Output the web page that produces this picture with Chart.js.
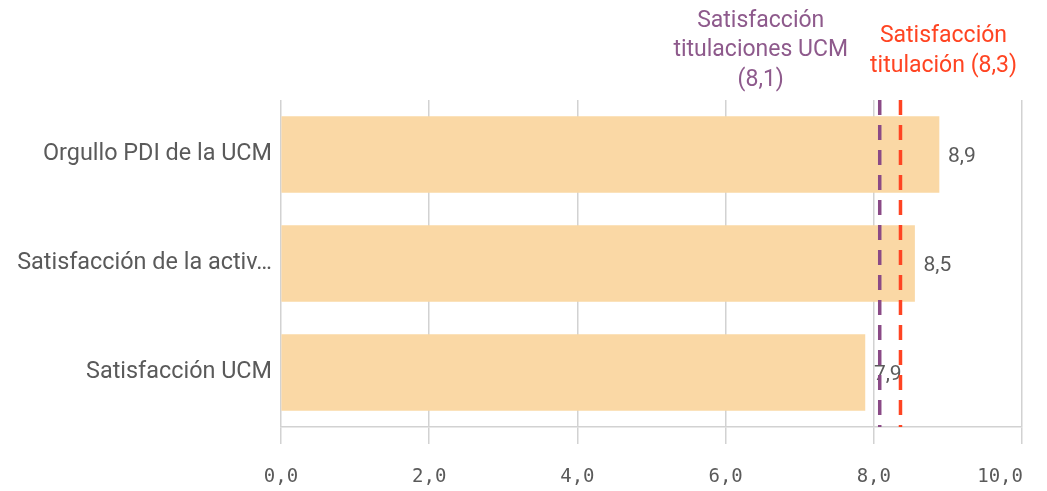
<!DOCTYPE html>
<html>
<head>
<meta charset="utf-8">
<script src="https://cdn.jsdelivr.net/npm/chart.js@4"></script>
<style>
html,body{margin:0;padding:0;background:#fff;}
#wrap{width:1047px;height:491px;}
</style>
</head>
<body>
<div id="wrap"><canvas id="c"></canvas></div>
<script>
const categories = ["Orgullo PDI de la UCM", "Satisfacción de la activ…", "Satisfacción UCM"];
const values = [8.88, 8.55, 7.88];
const valueLabels = ["8,9", "8,5", "7,9"];
const tickValues = [0, 2, 4, 6, 8, 10];
const tickLabels = ["0,0", "2,0", "4,0", "6,0", "8,0", "10,0"];
const refValues = [8.08, 8.36];
const refLabels = [["Satisfacción", "titulaciones UCM", "(8,1)"], ["Satisfacción", "titulación (8,3)"]];
const refColors = ["#8a4a86", "#ff4422"];
const refTextColors = ["#8e5a8c", "#ff4422"];

const FONT = "Roboto, 'Noto Sans', sans-serif";
const MONO = "'DejaVu Sans Mono', monospace";

const overlay = {
  id: 'overlay',
  afterDatasetsDraw(chart) {
    const ctx = chart.ctx;
    const xs = chart.scales.x;
    const meta = chart.getDatasetMeta(0);
    // value labels
    ctx.save();
    ctx.font = "21px " + FONT;
    ctx.fillStyle = "#5a5a5a";
    ctx.textAlign = "left";
    ctx.textBaseline = "middle";
    meta.data.forEach((bar, i) => {
      ctx.fillText(valueLabels[i], bar.x + 9, bar.y + 2);
    });
    ctx.restore();
    // reference lines
    const top = chart.chartArea.top;
    const bottom = chart.chartArea.bottom;
    refValues.forEach((v, i) => {
      const px = xs.getPixelForValue(v);
      ctx.save();
      ctx.strokeStyle = refColors[i];
      ctx.lineWidth = 3.5;
      ctx.setLineDash([15, 10]);
      ctx.beginPath();
      ctx.moveTo(px, top);
      ctx.lineTo(px, bottom);
      ctx.stroke();
      ctx.restore();
    });
    // reference labels
    ctx.save();
    ctx.font = "23px " + FONT;
    ctx.textAlign = "center";
    ctx.textBaseline = "middle";
    const p0 = xs.getPixelForValue(refValues[0]);
    const p1 = xs.getPixelForValue(refValues[1]);
    ctx.fillStyle = refTextColors[0];
    refLabels[0].forEach((t, j) => ctx.fillText(t, p0 - 119, 21 + j * 29.5));
    ctx.fillStyle = refTextColors[1];
    refLabels[1].forEach((t, j) => ctx.fillText(t, p1 + 43, 36 + j * 30.5));
    ctx.restore();
    // x tick labels, kept inside the canvas
    ctx.save();
    ctx.font = "19px " + MONO;
    ctx.fillStyle = "#5a5a5a";
    ctx.textAlign = "left";
    ctx.textBaseline = "middle";
    const maxRight = chart.width - 24;
    tickValues.forEach((v, i) => {
      const w = ctx.measureText(tickLabels[i]).width;
      let x = xs.getPixelForValue(v) - w / 2;
      if (x + w > maxRight) x = maxRight - w;
      ctx.fillText(tickLabels[i], x, bottom + 50);
    });
    ctx.restore();
  }
};

new Chart(document.getElementById('c'), {
  type: 'bar',
  data: {
    labels: categories,
    datasets: [{
      data: values,
      backgroundColor: "#fad8a5",
      borderWidth: 0,
      barThickness: 76
    }]
  },
  options: {
    indexAxis: 'y',
    responsive: true,
    maintainAspectRatio: false,
    animation: false,
    layout: { padding: { top: 100, right: 25, left: 0, bottom: 0 } },
    plugins: { legend: { display: false }, tooltip: { enabled: false } },
    scales: {
      x: {
        min: 0, max: 10,
        afterBuildTicks(s) { s.ticks = tickValues.map(v => ({ value: v })); },
        ticks: {
          color: "rgba(0,0,0,0)",
          font: { family: MONO, size: 19 },
          padding: 24,
          maxRotation: 0,
          callback: (v, i) => tickLabels[i]
        },
        grid: { color: "#d2d2d2", lineWidth: 1.5, tickLength: 17, drawTicks: true },
        border: { color: "#d2d2d2", width: 1.5 },
        afterFit(s) { s.height = 64; s.paddingRight = 0; s.paddingLeft = 0; }
      },
      y: {
        ticks: {
          color: "#5a5a5a",
          font: { family: FONT, size: 23.4 },
          padding: 9
        },
        grid: { display: false, drawTicks: false },
        border: { display: false },
        afterFit(s) { s.width = 281; }
      }
    }
  },
  plugins: [overlay]
});
</script>
</body>
</html>
